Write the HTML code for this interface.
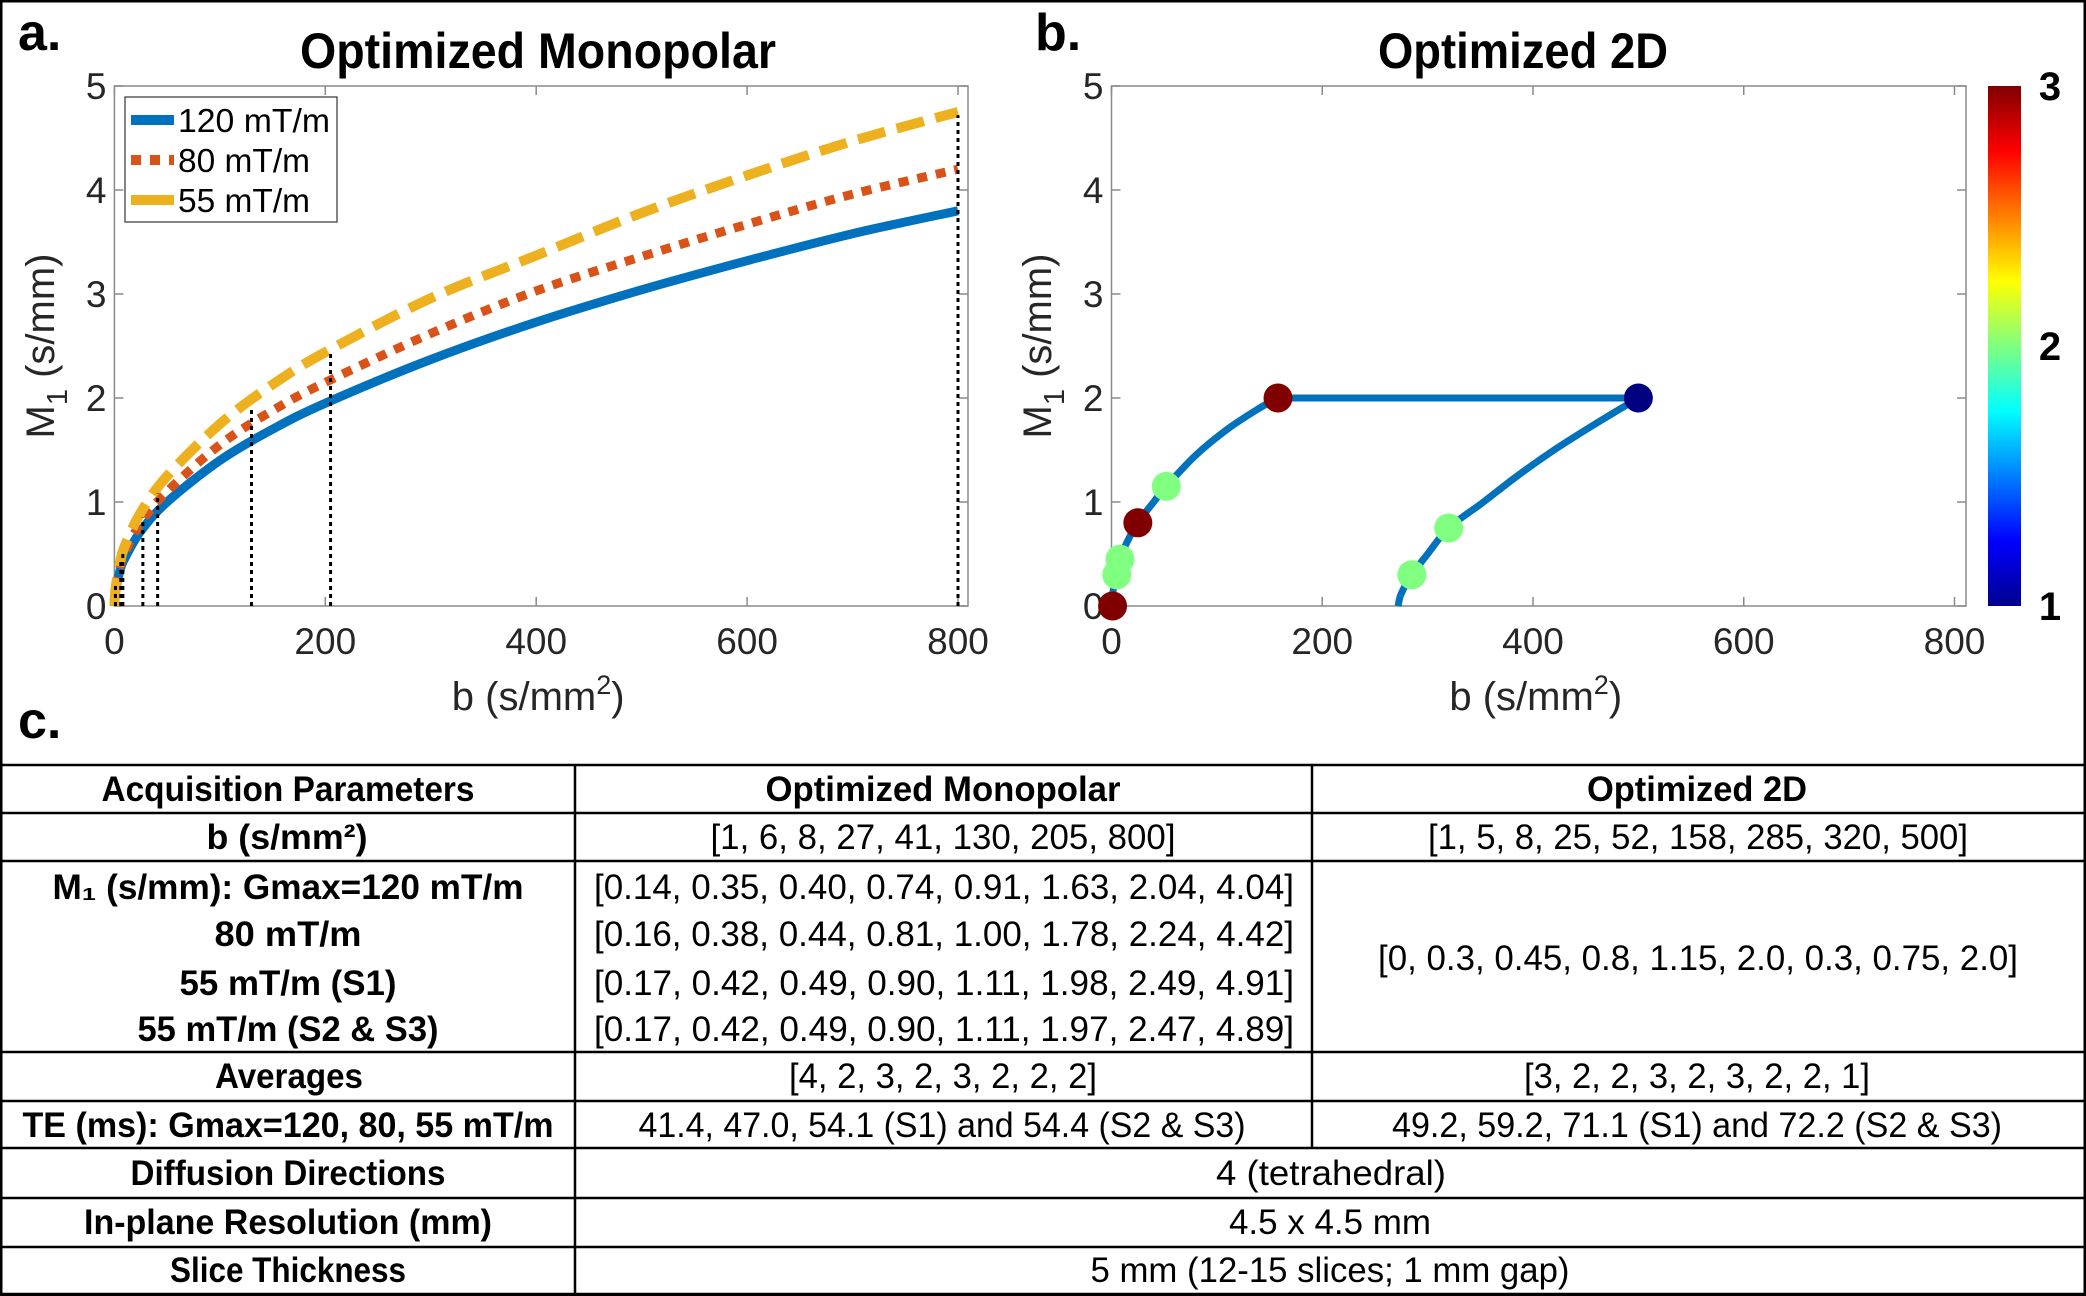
<!DOCTYPE html>
<html><head><meta charset="utf-8"><style>
html,body{margin:0;padding:0;background:#fff;}
svg{display:block;font-family:"Liberation Sans",sans-serif;}
</style></head><body>
<svg id="fig" width="2086" height="1296" viewBox="0 0 2086 1296" xmlns="http://www.w3.org/2000/svg">
<rect x="1" y="1" width="2084" height="1294" fill="#fff" stroke="#000" stroke-width="3"/>
<text x="18" y="50" font-size="52" font-weight="bold">a.</text>
<text x="1035" y="50" font-size="52" font-weight="bold">b.</text>
<text x="18" y="738" font-size="52" font-weight="bold">c.</text>
<text x="538" y="68" font-size="50" font-weight="bold" text-anchor="middle" textLength="476" lengthAdjust="spacingAndGlyphs">Optimized Monopolar</text>
<text x="1523" y="68" font-size="50" font-weight="bold" text-anchor="middle" textLength="290" lengthAdjust="spacingAndGlyphs">Optimized 2D</text>
<g id="chartA"></g>
<g id="chartB"></g>
<g id="tableG"></g>
</svg>
<script>
// ---- Chart A data ----
var curveB = [0, 1, 5, 10, 25, 50, 100, 150, 200, 300, 400, 500, 600, 700, 800];
var m120 = [0, 0.12, 0.33, 0.46, 0.72, 1.00, 1.40, 1.70, 1.95, 2.37, 2.73, 3.04, 3.32, 3.58, 3.80];
var m80 = [0, 0.14, 0.36, 0.51, 0.80, 1.10, 1.55, 1.88, 2.15, 2.62, 3.03, 3.36, 3.67, 3.96, 4.20];
var m55 = [0, 0.16, 0.41, 0.58, 0.90, 1.25, 1.75, 2.13, 2.44, 2.96, 3.37, 3.78, 4.14, 4.47, 4.75];
var sampleB = [1, 6, 8, 27, 41, 130, 205, 800];
var sampleTop = [0.2, 0.45, 0.5, 0.85, 1.08, 1.92, 2.43, 4.72];
var legendLabels = ['120 mT/m', '80 mT/m', '55 mT/m'];
var xTicks = [0, 200, 400, 600, 800];
var yTicks = [0, 1, 2, 3, 4, 5];
// ---- Chart B data ----
var ptB = [1, 5, 8, 25, 52, 158, 285, 320, 500];
var ptM = [0, 0.3, 0.45, 0.8, 1.15, 2.0, 0.3, 0.75, 2.0];
var ptAvg = [3, 2, 2, 3, 2, 3, 2, 2, 1];
var path1B = [0, 2, 5, 8, 15, 25, 40, 52, 80, 110, 140, 158];
var path1M = [0, 0.18, 0.3, 0.45, 0.62, 0.8, 1.0, 1.15, 1.45, 1.7, 1.9, 2.0];
var path2B = [500, 459, 420, 385, 353, 320, 300, 285, 275, 272];
var path2M = [2.0, 1.75, 1.5, 1.25, 1.0, 0.75, 0.5, 0.3, 0.12, 0];
var cbTicks = [1, 2, 3];

var NS = 'http://www.w3.org/2000/svg';
function mk(tag, attrs, parent) {
  var e = document.createElementNS(NS, tag);
  for (var k in attrs) e.setAttribute(k, attrs[k]);
  parent.appendChild(e);
  return e;
}
var Y0 = 606, Y1 = 86;
function yS(m) { return Y0 - m * (Y0 - Y1) / 5; }
function xA(b) { return 114.4 + b * (958 - 114.4) / 800; }
function xB(b) { return 1111.5 + b * (1954.5 - 1111.5) / 800; }
function smooth(xs, ys, xf) {
  var P = xs.map(function (b, i) { return [xf(b), yS(ys[i])]; });
  var d = 'M' + P[0][0].toFixed(1) + ' ' + P[0][1].toFixed(1);
  for (var i = 0; i < P.length - 1; i++) {
    var p0 = P[Math.max(i - 1, 0)], p1 = P[i], p2 = P[i + 1], p3 = P[Math.min(i + 2, P.length - 1)];
    var c1 = [p1[0] + (p2[0] - p0[0]) / 6, p1[1] + (p2[1] - p0[1]) / 6];
    var c2 = [p2[0] - (p3[0] - p1[0]) / 6, p2[1] - (p3[1] - p1[1]) / 6];
    d += 'C' + c1[0].toFixed(1) + ' ' + c1[1].toFixed(1) + ' ' + c2[0].toFixed(1) + ' ' + c2[1].toFixed(1) + ' ' + p2[0].toFixed(1) + ' ' + p2[1].toFixed(1);
  }
  return d;
}

function axes(g, left, right, xf, yLabX) {
  var box = mk('rect', {x: left, y: Y1, width: right - left, height: Y0 - Y1, fill: '#fff', stroke: '#8a8a8a', 'stroke-width': 1.5}, g);
  
  
  xTicks.forEach(function (t) {
    var x = xf(t);
    var tk = mk('path', {d: 'M' + x + ' ' + Y0 + 'v-9M' + x + ' ' + Y1 + 'v9', stroke: '#8a8a8a', 'stroke-width': 1.5}, g);
    
    
    var tl = mk('text', {x: x, y: 654, 'font-size': 37, fill: '#262626', 'text-anchor': 'middle'}, g);
    tl.textContent = t;
    
    
  });
  yTicks.forEach(function (t) {
    var y = yS(t);
    var tk = mk('path', {d: 'M' + left + ' ' + y + 'h9M' + right + ' ' + y + 'h-9', stroke: '#8a8a8a', 'stroke-width': 1.5}, g);
    
    
    var tl = mk('text', {x: left - 8, y: y + 13, 'font-size': 37, fill: '#262626', 'text-anchor': 'end'}, g);
    tl.textContent = t;
    
    
  });
  var xl = mk('text', {x: (left + right) / 2 - 3, y: 710, 'font-size': 40, fill: '#262626', 'text-anchor': 'middle'}, g);
  xl.innerHTML = 'b (s/mm<tspan dy="-16" font-size="27">2</tspan><tspan dy="16">)</tspan>';
  
  
  var yl = mk('text', {x: 0, y: 0, 'font-size': 40, fill: '#262626', 'text-anchor': 'middle', transform: 'translate(' + (yLabX + 14) + ',346) rotate(-90)'}, g);
  yl.innerHTML = 'M<tspan dy="13" font-size="29">1</tspan><tspan dy="-13"> (s/mm)</tspan>';
  
  
}

// Chart A
var gA = document.getElementById('chartA');
axes(gA, 114.4, 968, xA, 40);
var sBlue = mk('path', {d: smooth(curveB, m120, xA), fill: 'none', stroke: '#0072BD', 'stroke-width': 9}, gA);


var sOr = mk('path', {d: smooth(curveB, m80, xA), fill: 'none', stroke: '#D95319', 'stroke-width': 9, 'stroke-dasharray': '10 9'}, gA);


var sYe = mk('path', {d: smooth(curveB, m55, xA), fill: 'none', stroke: '#EDB120', 'stroke-width': 10, 'stroke-dasharray': '28 12'}, gA);


sampleB.forEach(function (b, i) {
  var l = mk('line', {x1: xA(b), x2: xA(b), y1: Y0, y2: yS(sampleTop[i]), stroke: '#000', 'stroke-width': 3, 'stroke-dasharray': '4 4'}, gA);
  
  
});
var leg = mk('g', {}, gA);


var lb = mk('rect', {x: 125, y: 97, width: 212, height: 125, fill: '#fff', stroke: '#333', 'stroke-width': 1.2}, leg);


var legStyles = [['#0072BD', 'none'], ['#D95319', '10 9'], ['#EDB120', 'none']];
legendLabels.forEach(function (t, i) {
  var y = 120 + i * 40;
  var ls = mk('line', {x1: 131, x2: 174, y1: y, y2: y, stroke: legStyles[i][0], 'stroke-width': 10, 'stroke-dasharray': legStyles[i][1]}, leg);
  
  
  var lt = mk('text', {x: 178, y: y + 12, 'font-size': 33, fill: '#000', textLength: 152, lengthAdjust: 'spacingAndGlyphs'}, leg);
  lt.textContent = t;
  
  
  if (i > 0) lt.setAttribute('textLength', 132);
});

// Chart B
var gB = document.getElementById('chartB');
axes(gB, 1111.5, 1966, xB, 1037);
var p1 = mk('path', {d: smooth(path1B, path1M, xB) + 'L' + xB(500) + ' ' + yS(2), fill: 'none', stroke: '#0072BD', 'stroke-width': 7, 'stroke-linejoin': 'round'}, gB);


var p2 = mk('path', {d: smooth(path2B, path2M, xB), fill: 'none', stroke: '#0072BD', 'stroke-width': 7, 'stroke-linejoin': 'round'}, gB);


var avgColor = {1: '#000080', 2: '#80ff80', 3: '#800000'};
ptB.forEach(function (b, i) {
  var c = mk('ellipse', {cx: xB(b), cy: yS(ptM[i]), rx: 14.5, ry: 14.5, fill: avgColor[ptAvg[i]]}, gB);
  
  
});
var defs = mk('defs', {}, gB);
var grad = mk('linearGradient', {id: 'jet', x1: 0, y1: 1, x2: 0, y2: 0}, defs);
[['0', '#00008f'], ['0.125', '#0000ff'], ['0.375', '#00ffff'], ['0.625', '#ffff00'], ['0.875', '#ff0000'], ['1', '#800000']].forEach(function (s) {
  mk('stop', {offset: s[0], 'stop-color': s[1]}, grad);
});
var cb = mk('rect', {x: 1988, y: Y1, width: 33, height: Y0 - Y1, fill: 'url(#jet)'}, gB);


cbTicks.forEach(function (t) {
  var y = Y0 - (t - 1) / 2 * (Y0 - Y1);
  var tl = mk('text', {x: 2050, y: y + 14, 'font-size': 40, 'font-weight': 'bold', 'text-anchor': 'middle'}, gB);
  tl.textContent = t;
  
  
});

// Table
var gT = document.getElementById('tableG');
var hLines = [765, 813, 861, 1052, 1101, 1148, 1198, 1247, 1294];
hLines.forEach(function (y) {
  var l = mk('line', {x1: 2, x2: 2084, y1: y, y2: y, stroke: '#000', 'stroke-width': 2.5}, gT);
  
  
});
[[575, 765, 1294], [1312, 765, 1148]].forEach(function (v) {
  var l = mk('line', {x1: v[0], x2: v[0], y1: v[1], y2: v[2], stroke: '#000', 'stroke-width': 2.5}, gT);
  
  
});
var cells = [
  [288, 789, 373, 1, 'Acquisition Parameters'],
  [943, 789, 355, 1, 'Optimized Monopolar'],
  [1697, 789, 220, 1, 'Optimized 2D'],
  [287, 837, 161, 1, 'b (s/mm²)'],
  [943, 837, 465, 0, '[1, 6, 8, 27, 41, 130, 205, 800]'],
  [1698, 837, 540, 0, '[1, 5, 8, 25, 52, 158, 285, 320, 500]'],
  [288, 887, 471, 1, 'M₁ (s/mm): Gmax=120 mT/m'],
  [288, 934, 147, 1, '80 mT/m'],
  [288, 983, 217, 1, '55 mT/m (S1)'],
  [288, 1029, 301, 1, '55 mT/m (S2 & S3)'],
  [944, 887, 700, 0, '[0.14, 0.35, 0.40, 0.74, 0.91, 1.63, 2.04, 4.04]'],
  [944, 934, 700, 0, '[0.16, 0.38, 0.44, 0.81, 1.00, 1.78, 2.24, 4.42]'],
  [944, 983, 700, 0, '[0.17, 0.42, 0.49, 0.90, 1.11, 1.98, 2.49, 4.91]'],
  [944, 1029, 700, 0, '[0.17, 0.42, 0.49, 0.90, 1.11, 1.97, 2.47, 4.89]'],
  [1698, 958, 640, 0, '[0, 0.3, 0.45, 0.8, 1.15, 2.0, 0.3, 0.75, 2.0]'],
  [289, 1076, 148, 1, 'Averages'],
  [943, 1076, 308, 0, '[4, 2, 3, 2, 3, 2, 2, 2]'],
  [1697, 1076, 346, 0, '[3, 2, 2, 3, 2, 3, 2, 2, 1]'],
  [288, 1125, 531, 1, 'TE (ms): Gmax=120, 80, 55 mT/m'],
  [942, 1125, 607, 0, '41.4, 47.0, 54.1 (S1) and 54.4 (S2 & S3)'],
  [1697, 1125, 610, 0, '49.2, 59.2, 71.1 (S1) and 72.2 (S2 & S3)'],
  [288, 1173, 315, 1, 'Diffusion Directions'],
  [1331, 1173, 230, 0, '4 (tetrahedral)'],
  [288, 1222, 408, 1, 'In-plane Resolution (mm)'],
  [1330, 1222, 202, 0, '4.5 x 4.5 mm'],
  [288, 1270, 236, 1, 'Slice Thickness'],
  [1330, 1270, 479, 0, '5 mm (12-15 slices; 1 mm gap)']
];
cells.forEach(function (c) {
  var t = mk('text', {x: c[0], y: c[1] + 12, 'font-size': 35, 'font-weight': c[3] ? 'bold' : 'normal', 'text-anchor': 'middle', textLength: c[2], lengthAdjust: 'spacingAndGlyphs'}, gT);
  t.textContent = c[4];
  
  
});
</script>
</body></html>
